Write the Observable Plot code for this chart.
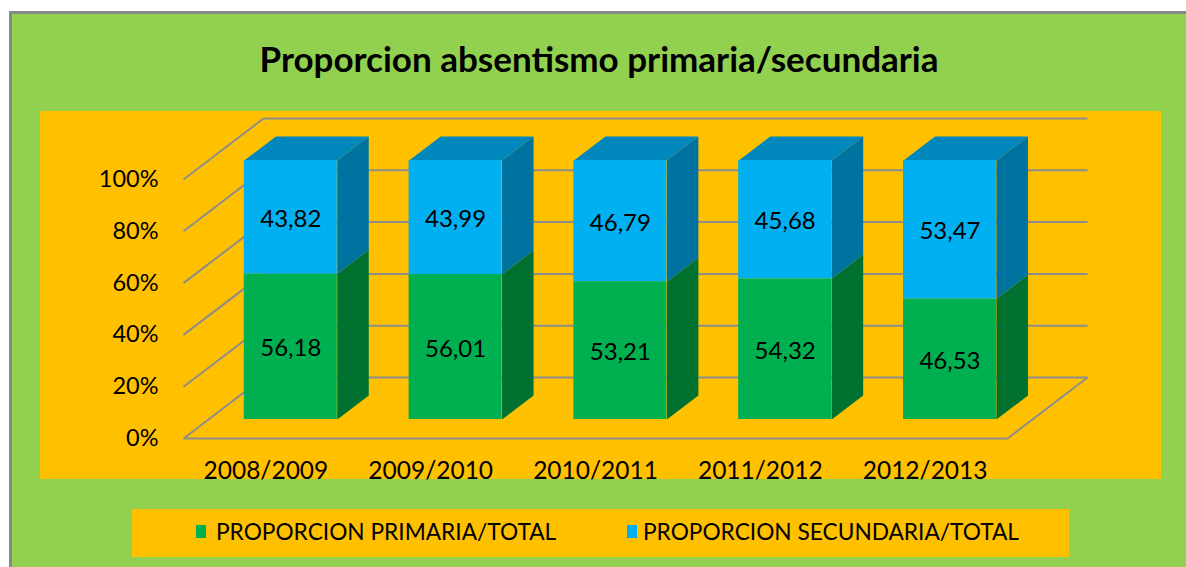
<!DOCTYPE html>
<html>
<head>
<meta charset="utf-8">
<script src="https://cdn.jsdelivr.net/npm/d3@7"></script>
<script src="https://cdn.jsdelivr.net/npm/@observablehq/plot@0.6"></script>
<style>
  html, body { margin: 0; padding: 0; background: #fff; overflow: hidden; }
  #page { position: relative; width: 1186px; height: 567px; font-family: Lato, "Open Sans", sans-serif; color: #000; }
  #box { position: absolute; left: 9px; top: 11px; width: 1200px; height: 600px; background: #92D050; border-left: 3px solid #888; border-top: 3px solid #888; box-sizing: border-box; }
  #title { position: absolute; left: 0; width: 1198px; top: 36px; text-align: center; font-weight: bold; font-size: 35px; line-height: 44px; }
  #plot { position: absolute; left: 40px; top: 111px; width: 1121px; height: 368px; background: #FFC000; }
  #legend { position: absolute; left: 132px; top: 509px; width: 937px; height: 48px; background: #FFC000; }
  .sw { position: absolute; top: 16px; width: 10px; height: 13px; }
  .lt { position: absolute; top: 9px; font-size: 22.7px; line-height: 28px; white-space: nowrap; }
</style>
</head>
<body>
<div id="page">
  <div id="box"></div>
  <div id="title">Proporcion absentismo primaria/secundaria</div>
  <div id="plot"></div>
  <div id="legend"></div>
</div>
<script>
// ---- data ----
const categories = ["2008/2009", "2009/2010", "2010/2011", "2011/2012", "2012/2013"];
const primaria = [56.18, 56.01, 53.21, 54.32, 46.53];
const secundaria = [43.82, 43.99, 46.79, 45.68, 53.47];
const yTicks = [0, 20, 40, 60, 80, 100];
const seriesNames = ["PROPORCION PRIMARIA/TOTAL", "PROPORCION SECUNDARIA/TOTAL"];
const seriesColors = ["#00B050", "#00B0F0"];
const sideColors = ["#00712F", "#00729F"];
const topColor = "#0088BD";

// ---- 3D projection helpers (in data units) ----
const DX = 0.4854, DY = 23.55;   // full depth offset
const F1 = 0.311, F2 = 0.705;    // bar front / back depth
const HW = 0.282;                // bar half width
const P = (x, y, f) => ({x: x + f * DX, y: y + f * DY});

const fronts = [], polys = [], labels = [];
categories.forEach((c, i) => {
  const segs = [[0, primaria[i], 0, primaria[i]], [primaria[i], primaria[i] + secundaria[i], 1, secundaria[i]]];
  const xl = i + 0.5 - HW, xr = i + 0.5 + HW;
  segs.forEach(([y0, y1, s, v]) => {
    fronts.push({x1: xl + F1 * DX, x2: xr + F1 * DX, y1: y0 + F1 * DY, y2: y1 + F1 * DY, s});
    const id = `side-${i}-${s}`;
    [P(xr, y0, F1), P(xr, y0, F2), P(xr, y1, F2), P(xr, y1, F1)].forEach(p => polys.push({...p, id, kind: "side" + s}));
    labels.push({x: i + 0.5 + F1 * DX, y: (y0 + y1) / 2 + F1 * DY, text: v.toFixed(2).replace(".", ",")});
  });
  const top = primaria[i] + secundaria[i];
  const id = `top-${i}`;
  [P(xl, top, F1), P(xr, top, F1), P(xr, top, F2), P(xl, top, F2)].forEach(p => polys.push({...p, id, kind: "top"}));
});

const grid = "#8d8d8d";
const chart = Plot.plot({
  width: 1121, height: 368,
  marginLeft: 143, marginRight: 154, marginTop: 68, marginBottom: 41,
  x: {domain: [0, 5]},
  y: {domain: [0, 100]},
  style: {background: "transparent", fontFamily: "Lato, 'Open Sans', sans-serif", color: "#000", overflow: "visible"},
  marks: [
    // back wall gridlines
    Plot.link(yTicks, {x1: DX, x2: 5 + DX, y1: d => d + DY, y2: d => d + DY, stroke: grid, strokeWidth: 2}),
    // side wall diagonals
    Plot.link(yTicks, {x1: 0, x2: DX, y1: d => d, y2: d => d + DY, stroke: grid, strokeWidth: 2}),
    // floor front and right edge
    Plot.link([0], {x1: 0, x2: 5, y1: 0, y2: 0, stroke: grid, strokeWidth: 2}),
    Plot.link([0], {x1: 5, x2: 5 + DX, y1: 0, y2: DY, stroke: grid, strokeWidth: 2}),
    // bars
    Plot.line(polys.filter(d => d.kind === "side0"), {x: "x", y: "y", z: "id", fill: sideColors[0], stroke: "none", curve: "linear-closed"}),
    Plot.line(polys.filter(d => d.kind === "side1"), {x: "x", y: "y", z: "id", fill: sideColors[1], stroke: "none", curve: "linear-closed"}),
    Plot.line(polys.filter(d => d.kind === "top"), {x: "x", y: "y", z: "id", fill: topColor, stroke: "none", curve: "linear-closed"}),
    Plot.rect(fronts.filter(d => d.s === 0), {x1: "x1", x2: "x2", y1: "y1", y2: "y2", fill: seriesColors[0]}),
    Plot.rect(fronts.filter(d => d.s === 1), {x1: "x1", x2: "x2", y1: "y1", y2: "y2", fill: seriesColors[1]}),
    Plot.text(labels, {x: "x", y: "y", text: "text", fontSize: 24, dy: 2, fill: "#000"}),
    // axes
    Plot.axisY({ticks: yTicks, tickFormat: d => d + "%", tickSize: 0, tickPadding: 25, fontSize: 23.5, label: null}),
    Plot.axisX({ticks: categories.map((_, i) => i + 0.5), tickFormat: d => categories[Math.floor(d)], tickSize: 0, tickPadding: 23, fontSize: 24.5, label: null})
  ]
});
document.getElementById("plot").appendChild(chart);

// legend
const lg = document.getElementById("legend");
const pos = [[64, 84], [495, 511]];
seriesNames.forEach((n, i) => {
  const sw = document.createElement("div");
  sw.className = "sw"; sw.style.left = pos[i][0] + "px"; sw.style.background = seriesColors[i];
  const t = document.createElement("div");
  t.className = "lt"; t.style.left = pos[i][1] + "px"; t.textContent = n;
  lg.appendChild(sw); lg.appendChild(t);
});
</script>
</body>
</html>
